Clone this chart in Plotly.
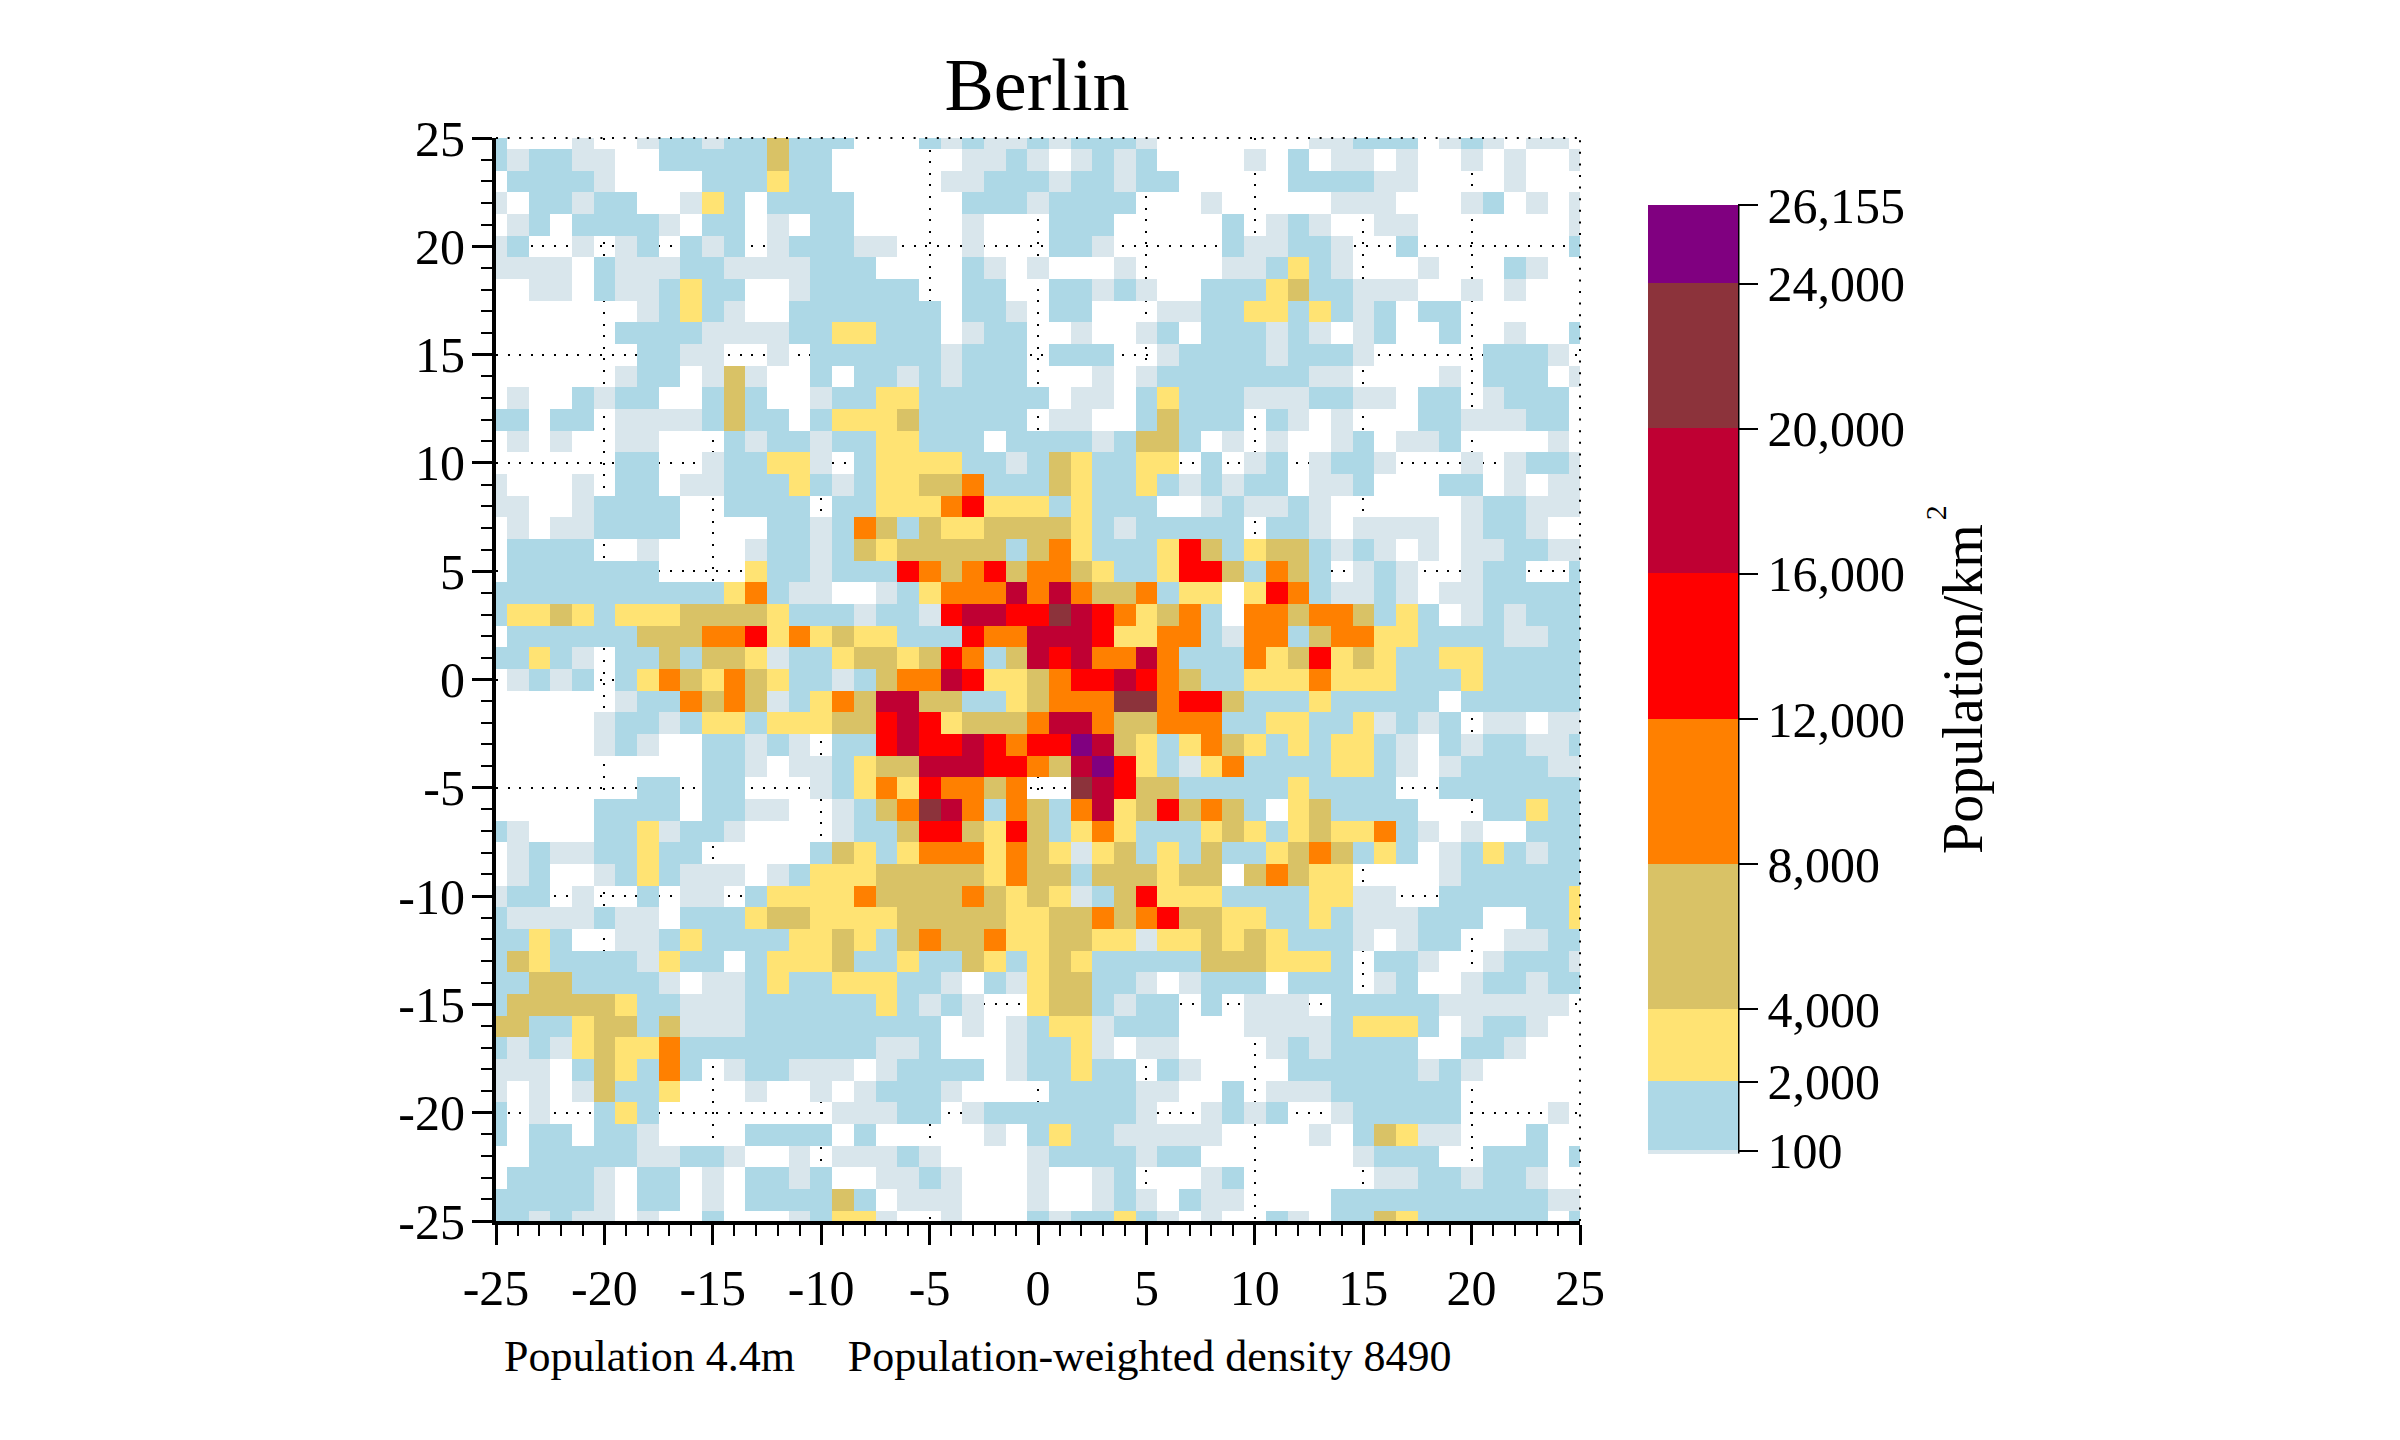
import plotly.graph_objects as go

W, H = 2400, 1440

grid_x = list(range(-25, 26))
grid_y = list(range(25, -26, -1))

# One code per cell, row by row from y=25 down to y=-25.
density_rows = [
    "b...l..lbblbbtbbb...blbllb" "lbbbl.......llbbb.lbl.ll.",
    "blbbll..bbbbbtbb......llbl" ".lblb....l.b.ll.l..l.l..l",
    ".bbbbl....bbbybb.....llbbb" "lbblbb.....bbbbll....l...",
    "l.bblbb..lyb.bbbb.....bbbl" "bbbb...l.....lll...lb.l.l",
    ".lb.bbbbl.bb.l.bb.....l..." "bbb.....b.lbl..ll.......l",
    "lb..l.lb.blb.lbbbll...l..." "bbl.....bllbbl..b.......b",
    "llll.blllbbllllbbb....bl.l" "...l....llbybl...l...bl..",
    "..ll.bllbybb..lbbbbb..bb.." "bblbl..bbbytbblll..l.l...",
    ".......lbybl..bbbbbbb.bbl." "bb...llbbyybyblb.bb......",
    "......bbbbllllbbyybbb.lbb." ".l..lb.bbblbl.lb..b..l..b",
    ".......bbll..l.bbbbbblbbb." "bbb..lbbbblbbbl.....bbbl.",
    "......lbb.ltl..b.bblblbbb." "..l.lbbbbbbbll....l.bbb.l",
    ".l..blbb..btb..lbbyybbbbbb" ".ll.bybbblllbbll.bb.lbbb.",
    "bb.bb.llllbtbb.byyytbbbbb." "ll..btbbb.bl.l...bblllbb.",
    ".l.l..ll...blbblbbyybbb.bb" "bblbttb.l.l..lb.llb....l.",
    "......bb..lbbyyl.byyyybblb" "tybbyy.b.lb.lbbl...l.lbbl",
    "l...l.bb.llbbbyblbyyttobbb" "tybbyblblbb.llb...bb.l.ll",
    "ll..lbbbb..bbbb.bbyyyoryyy" "bybbb..lbllbl......lbblll",
    ".l.llbbbb....bblbotbtyyttt" "tyblbbbbb.bbl.llll.lbbl..",
    ".bbbb..l....lbblbtytttttbt" "oybbbyrtbyttblbl.l.llbbll",
    ".bbbbbbb....ybblbbbrotorto" "otybbyrrtbotb.lbl..lbb..b",
    "bbbbbbbbbbbyobll..lbyoooco" "cottobyy.yrobllbl.llbbbbb",
    "byytybyyyttttybbblbblrccrr" "mcroytob.ootootbyb.lblbbb",
    ".bbbbbbtttooryoytyybbbrooc" "ccryyoobloobtooyybbbbllbb",
    "bbybl.bbtbttylbbyttytrobtc" "rcoocobbboytrytybbyybbbbb",
    ".lblb.byotyotybblbtoocryyt" "orrcrotbbyyyoyyybbbybbbbb",
    "......lbbototlbyotccttbbyt" "ooommorrtbbbybbbbb.bbbbbb",
    ".....lbblbyybyyyttrcryttto" "ccottooobbyybbylblb.ll.ll",
    ".....lbl..bblbl.bbrcrrcror" "rpctybyotybybyybl.blbbllb",
    "..........bbl.llbyttcccrro" "tcpryblyobbbbyybl.lbbbbll",
    ".......bb.bb...lbyoyrooto." ".mcrttbbbbbybbbb..bbbbbbb",
    ".....bbbb.bbll..lbtomcobot" "bocytrtotb.ytbbbb...bbybb",
    "bl...bbylbbl....lbbtrrtyrt" "byoybbbytybytyyobl.l..bbb",
    ".lbllbbybb.....btybyoooyot" "ylytbybtbbytotbyb.lbyblbb",
    ".lb..lbyblll.lbyyytttttyot" "tbtttytt.totyy....lbbbbbb",
    "lbb.l..b.ll.byyyyottttotyt" "ylbtryyybbbbyyll..bbbbbby",
    "bllllbll.bbbyttyyyytttttyy" "ttotorttyybbyblllbbb..bby",
    "bbyb..llbybbbbyytybtottoyy" "ttyylyytytybbbl.lbb..llbb",
    "btybbbblybb.byyytbbybbtyby" "tybbbbbtttyyyb.bbl..lbbbl",
    "bbttbbbbl.llbybbyyybbl.bly" "ttbbl.lbbb.bbb.lb..lbblbb",
    "btttttybblllbbbbbbyblbl..y" "ttblbb.b.lll.bbbbbllllll.",
    "ttbbyttbtlllbbbbbbbbb.l.lb" "yylbbb...llllbyyyb.lbbl..",
    "blblytyyobbbbbbbbbllb...lb" "byl.ll....lblbbbb..bbl...",
    "lll.btybob.lbblll.lbbbb.lb" "bybb.bl....bbbbbblbl.....",
    "l.l.ltbby...l..l.lbbbl...." "bbbbll..b.lllbbbbbb......",
    "b.l..byb........lllbb.lbbb" "bbbbl..lblb..lbbbbb....l.",
    "b.bb.bbl....bbbb.b.....l.b" "ybblllll....l.btyll...b..",
    "..bbbbbllbbl..l.lllbl....l" "bbbblbb.......lbbb..bbb.b",
    ".bbbbl.bb.l.bblb..llbl...l" "..lb...lb......llbblbbl..",
    "bbbbbl.bb.l.bbbbtb.lll...l" "..lbl.bll....bbbbbbbbbbll",
    "bblbll.l..b...lbyyl..l...b" "lbbybl.l..bl.bbtybbbbbb.b",
]

# Representative density of each class, classes and legend ticks
band_codes = ["l", "b", "y", "t", "o", "r", "c", "m", "p"]
band_values = [50, 1000, 3000, 6000, 10000, 14000, 18000, 22000, 25000]
band_edges = [0, 100, 2000, 4000, 8000, 12000, 16000, 20000, 24000, 26155]
band_colors = ["#d9e6ec", "#add8e6", "#ffe373", "#d9c266", "#ff8000",
               "#ff0000", "#bf0033", "#8c333b", "#800080"]
bar_ticks = [100, 2000, 4000, 8000, 12000, 16000, 20000, 24000, 26155]
bar_labels = ["100", "2,000", "4,000", "8,000", "12,000", "16,000", "20,000", "24,000", "26,155"]
axis_ticks = [-25, -20, -15, -10, -5, 0, 5, 10, 15, 20, 25]
axis_labels = ["-25", "-20", "-15", "-10", "-5", "0", "5", "10", "15", "20", "25"]

lookup = dict(zip(band_codes, band_values))
assert len(density_rows) == 51
for i, r in enumerate(density_rows):
    assert len(r) == 51, (i, len(r))
z = [[lookup.get(c) for c in r] for r in density_rows]

zmax = band_edges[-1]
scale = []
for k, col in enumerate(band_colors):
    scale.append([band_edges[k] / zmax, col])
    scale.append([band_edges[k + 1] / zmax, col])

FONT = "Liberation Serif"
OFF = 8  # page margin of the browser
PL, PR, PT, PB = 496 - OFF, 1580 - OFF, 137.5 - OFF, 1221.5 - OFF
BAR_T, BAR_B, BAR_L, BAR_R = 205 - OFF, 1154 - OFF, 1648 - OFF, 1738 - OFF


def fx(px):
    return (px - OFF - PL) / (PR - PL)


def fy(py):
    return (PB - (py - OFF)) / (PB - PT)


fig = go.Figure(go.Heatmap(
    x=grid_x, y=grid_y, z=z, zmin=0, zmax=zmax, colorscale=scale,
    hoverongaps=False,
    colorbar=dict(
        xref="paper", yref="paper",
        x=fx(1648), xanchor="left", xpad=0,
        y=fy(205), yanchor="top", ypad=0,
        thickness=BAR_R - BAR_L, thicknessmode="pixels",
        len=BAR_B - BAR_T, lenmode="pixels",
        outlinewidth=0, borderwidth=0,
        tickmode="array", tickvals=bar_ticks, ticktext=bar_labels,
        ticks="outside", ticklen=20, tickwidth=2, tickcolor="black",
        tickfont=dict(family=FONT, size=50, color="black"),
    ),
))

axis_style = dict(
    range=[-25, 25], tickmode="array", tickvals=axis_ticks, ticktext=axis_labels,
    ticks="outside", ticklen=20, tickwidth=3, tickcolor="black",
    tickfont=dict(family=FONT, size=50, color="black"),
    showline=True, linecolor="black", linewidth=4,
    showgrid=True, gridcolor="black", gridwidth=2, griddash="2px,9.6px",
    zeroline=False,
    minor=dict(dtick=1, tick0=0, ticks="outside", ticklen=11, tickwidth=2,
               tickcolor="black", showgrid=False),
)

dotted = dict(color="black", width=2, dash="2px,9.6px")

fig.update_layout(
    width=W, height=H, margin=dict(l=PL, r=W - PR, t=PT, b=H - PB, autoexpand=False),
    paper_bgcolor="white", plot_bgcolor="white",
    font=dict(family=FONT, color="black"),
    title=dict(text="Berlin", x=(1037 - OFF) / W, xanchor="center", xref="container",
               y=1 - 76 / H, yanchor="middle", yref="container",
               font=dict(family=FONT, size=74, color="black")),
    xaxis=dict(**axis_style),
    yaxis=dict(ticklabelstandoff=-3, **axis_style),
    annotations=[
        dict(text="Population 4.4m\u2003\u2009Population-weighted density 8490",
             xref="paper", yref="paper", showarrow=False,
             x=fx(502), xanchor="left", y=fy(1357), yanchor="middle",
             font=dict(family=FONT, size=44, color="black")),
        dict(text="Population/km", textangle=-90,
             xref="paper", yref="paper", showarrow=False,
             x=fx(1963), xanchor="center", y=fy(689), yanchor="middle",
             font=dict(family=FONT, size=56, color="black")),
        dict(text="2", textangle=-90,
             xref="paper", yref="paper", showarrow=False,
             x=fx(1935), xanchor="center", y=fy(513), yanchor="middle",
             font=dict(family=FONT, size=30, color="black")),
    ],
    shapes=[
        dict(type="line", xref="paper", yref="paper", x0=fx(1738), x1=fx(1738),
             y0=fy(205), y1=fy(1154), line=dict(color="black", width=3)),
        dict(type="line", xref="paper", yref="paper", x0=0, x1=1, y0=1, y1=1, line=dotted),
        dict(type="line", xref="paper", yref="paper", x0=1, x1=1, y0=0, y1=1, line=dotted),
    ],
)

fig.write_html("out.html")
